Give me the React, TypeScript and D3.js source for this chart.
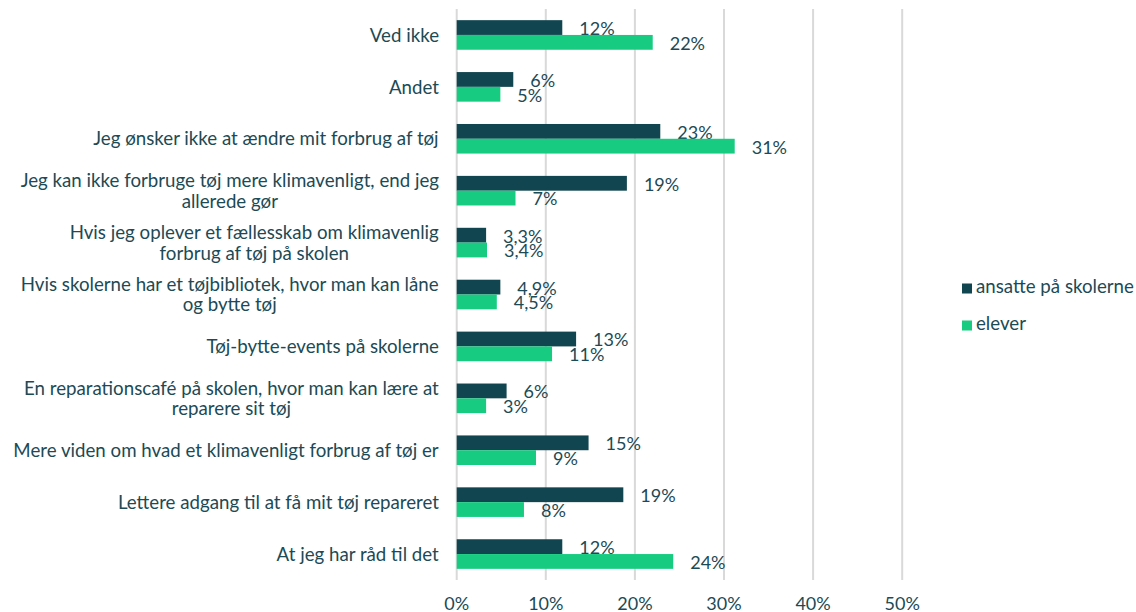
import React from "react";
import * as d3 from "d3";

const categories: string[][] = [
  ["Ved ikke"],
  ["Andet"],
  ["Jeg ønsker ikke at ændre mit forbrug af tøj"],
  ["Jeg kan ikke forbruge tøj mere klimavenligt, end jeg", "allerede gør"],
  ["Hvis jeg oplever et fællesskab om klimavenlig", "forbrug af tøj på skolen"],
  ["Hvis skolerne har et tøjbibliotek, hvor man kan låne", "og bytte tøj"],
  ["Tøj-bytte-events på skolerne"],
  ["En reparationscafé på skolen, hvor man kan lære at", "reparere sit tøj"],
  ["Mere viden om hvad et klimavenligt forbrug af tøj er"],
  ["Lettere adgang til at få mit tøj repareret"],
  ["At jeg har råd til det"],
];

const ansatteValues = [11.85, 6.35, 22.85, 19.1, 3.3, 4.9, 13.4, 5.6, 14.8, 18.7, 11.85];
const eleverValues = [22.0, 4.9, 31.2, 6.6, 3.4, 4.5, 10.7, 3.3, 8.9, 7.55, 24.3];
const ansatteLabels = ["12%", "6%", "23%", "19%", "3,3%", "4,9%", "13%", "6%", "15%", "19%", "12%"];
const eleverLabels = ["22%", "5%", "31%", "7%", "3,4%", "4,5%", "11%", "3%", "9%", "8%", "24%"];
const seriesNames = ["ansatte på skolerne", "elever"];
const xTicks = [0, 10, 20, 30, 40, 50];

const DARK = "#114550";
const GREEN = "#17cc80";
const TEXT = "#1c4a55";
const FONT = "Lato, 'Open Sans', sans-serif";

let measureCtx: CanvasRenderingContext2D | null = null;
function textWidth(s: string, size: number) {
  if (!measureCtx) {
    const c = document.createElement("canvas");
    measureCtx = c.getContext("2d");
  }
  if (!measureCtx) return s.length * size * 0.5;
  measureCtx.font = `${size}px Lato`;
  return measureCtx.measureText(s).width;
}

export default function App() {
  const W = 1136;
  const H = 612;
  const left = 456.7;
  const top = 9;
  const bottom = 580;
  const x = d3.scaleLinear().domain([0, 50]).range([left, left + 445.5]);
  const y0 = d3
    .scaleBand<number>()
    .domain(d3.range(categories.length))
    .range([top, bottom])
    .paddingInner(0.43)
    .paddingOuter(0.215);
  const y1 = d3.scaleBand<number>().domain([0, 1]).range([0, y0.bandwidth()]);
  const catSize = 18.7;
  const labSize = 18;
  const labelRight = 439;

  return (
    <svg
      width={W}
      height={H}
      style={{ position: "absolute", left: 0, top: 0, background: "#fff" }}
      fontFamily={FONT}
    >
      {xTicks.map((t) => (
        <g key={t}>
          <line x1={x(t)} x2={x(t)} y1={top} y2={bottom} stroke="#d9d9d9" strokeWidth={2} />
          <text x={x(t)} y={610} textAnchor="middle" fontSize={labSize} fill={TEXT}>
            {t}%
          </text>
        </g>
      ))}
      {categories.map((lines, i) => {
        const bandY = y0(i)!;
        const cy = bandY + y0.bandwidth() / 2;
        const maxW = Math.max(...lines.map((l) => textWidth(l, catSize)));
        const cx = labelRight - maxW / 2;
        const lh = 20.5;
        const startY = cy - ((lines.length - 1) * lh) / 2;
        const vals = [ansatteValues[i], eleverValues[i]];
        const labs = [ansatteLabels[i], eleverLabels[i]];
        return (
          <g key={i}>
            {lines.map((l, j) => (
              <text
                key={j}
                x={cx}
                y={startY + j * lh + 6.7}
                textAnchor="middle"
                fontSize={catSize}
                fill={TEXT}
              >
                {l}
              </text>
            ))}
            {vals.map((v, k) => {
              const by = bandY + y1(k)!;
              return (
                <g key={k}>
                  <rect
                    x={x(0)}
                    y={by}
                    width={x(v) - x(0)}
                    height={y1.bandwidth()}
                    fill={k === 0 ? DARK : GREEN}
                  />
                  <text
                    x={x(v) + 17}
                    y={by + y1.bandwidth() / 2 + 7.4}
                    fontSize={labSize}
                    fill={TEXT}
                  >
                    {labs[k]}
                  </text>
                </g>
              );
            })}
          </g>
        );
      })}
      {seriesNames.map((s, k) => {
        const ly = k === 0 ? 288.5 : 325.5;
        return (
          <g key={s}>
            <rect x={962} y={ly - 5} width={10} height={10} fill={k === 0 ? DARK : GREEN} />
            <text x={976} y={ly + 4.5} fontSize={catSize} fill={TEXT}>
              {s}
            </text>
          </g>
        );
      })}
    </svg>
  );
}
